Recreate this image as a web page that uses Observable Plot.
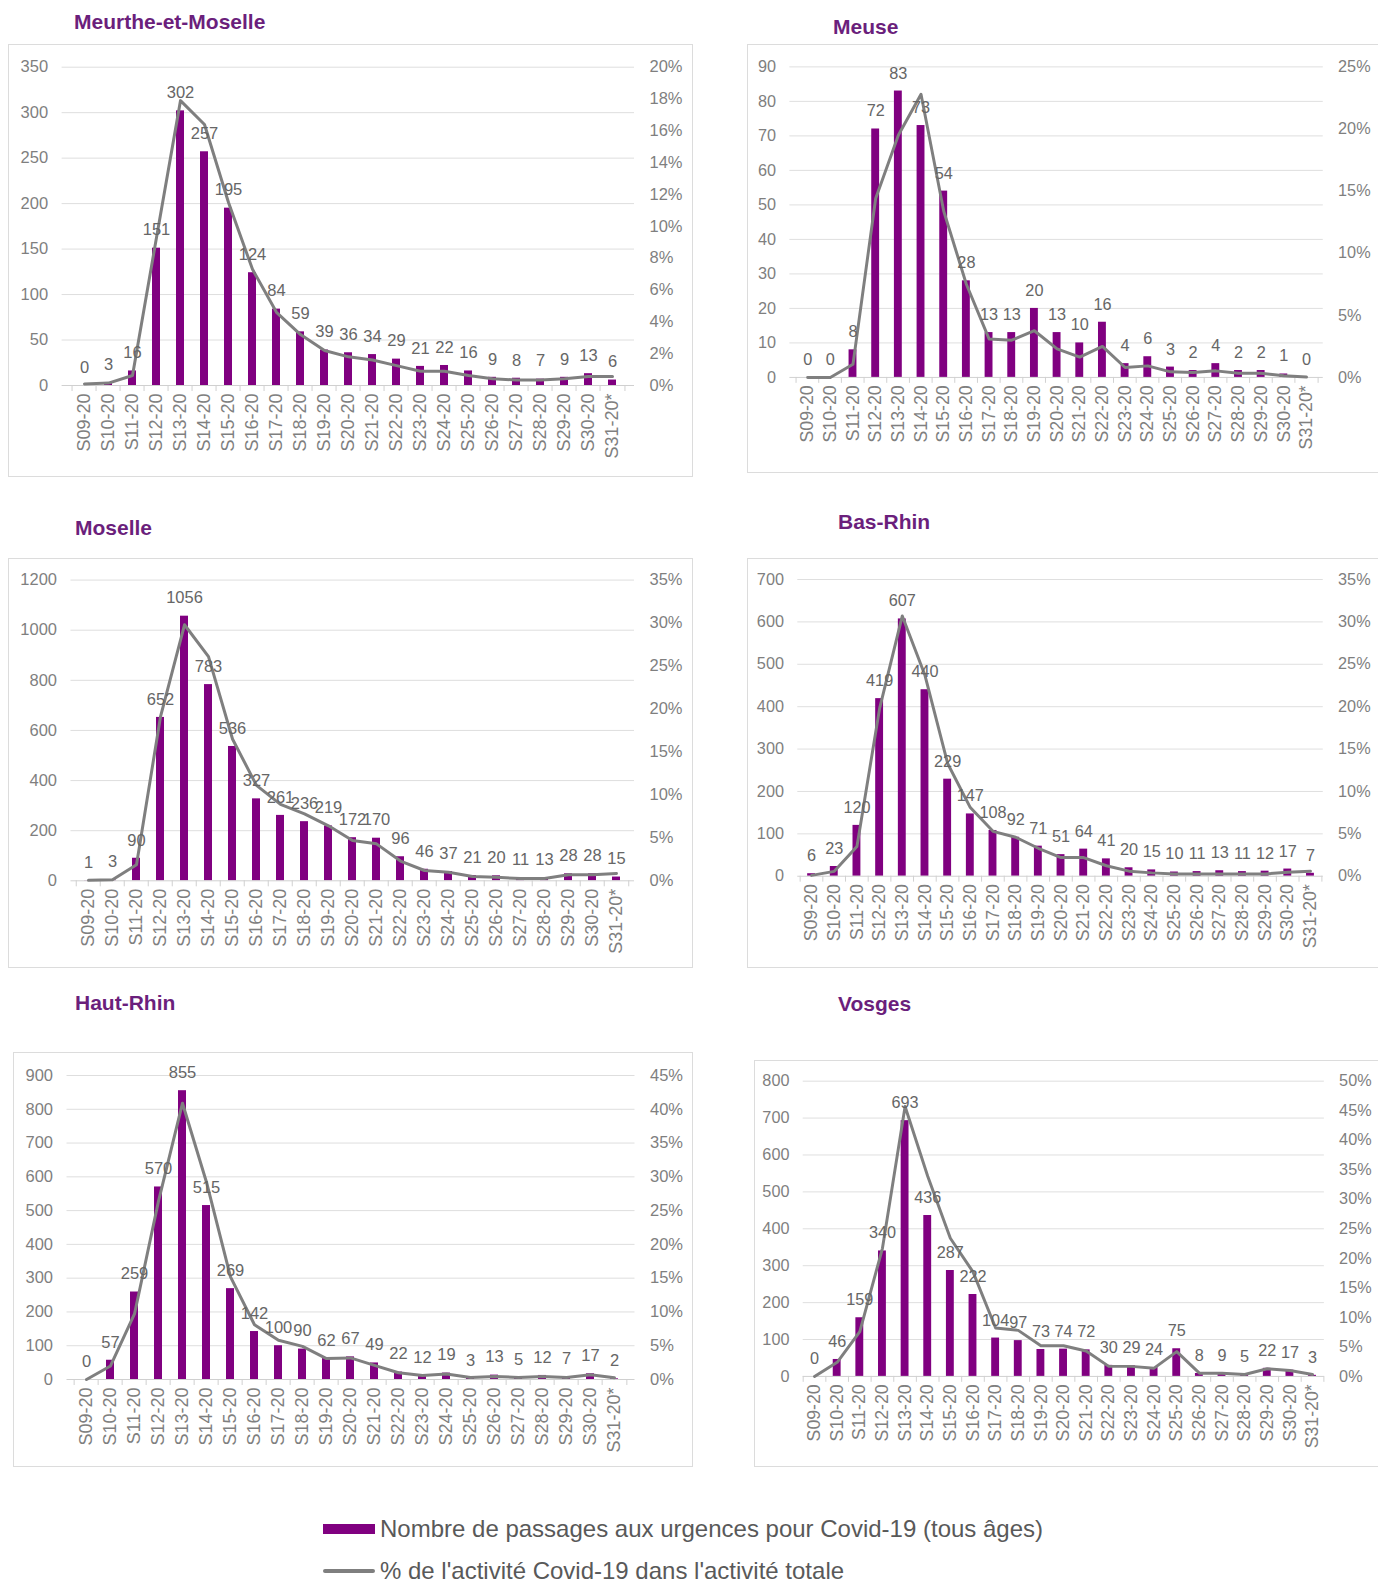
<!DOCTYPE html>
<html>
<head>
<meta charset="utf-8">
<script src="https://cdn.jsdelivr.net/npm/d3@7"></script>
<script src="https://cdn.jsdelivr.net/npm/@observablehq/plot@0.6"></script>
<style>
  html, body { margin: 0; padding: 0; background: #fff; }
  #page { position: relative; width: 1378px; height: 1584px; overflow: hidden; background: #fff;
          font-family: "Liberation Sans", Arial, sans-serif; }
  .frame { position: absolute; border: 1px solid #dcdcdc; box-sizing: border-box; }
  .title { position: absolute; font-weight: bold; font-size: 21px; color: #6b1f7c; line-height: 1; transform: translateY(-50%); white-space: nowrap; }
  .plotbox { position: absolute; }
  .plotbox svg { overflow: visible; }
  .leg { position: absolute; font-size: 24px; color: #595959; line-height: 1; transform: translateY(-50%); white-space: nowrap; }
</style>
</head>
<body>
<div id="page"></div>
<script>
// ---------- DATA ----------
const weeks = ["S09-20","S10-20","S11-20","S12-20","S13-20","S14-20","S15-20","S16-20","S17-20","S18-20","S19-20","S20-20","S21-20","S22-20","S23-20","S24-20","S25-20","S26-20","S27-20","S28-20","S29-20","S30-20","S31-20*"];

const meurtheCounts = [0,3,16,151,302,257,195,124,84,59,39,36,34,29,21,22,16,9,8,7,9,13,6];
const meurthePct    = [0.1,0.15,0.63,9.3,17.9,16.4,11.5,7.3,4.6,3.2,2.2,1.8,1.6,1.25,0.9,0.9,0.63,0.42,0.35,0.35,0.42,0.57,0.57];

const meuseCounts = [0,0,8,72,83,73,54,28,13,13,20,13,10,16,4,6,3,2,4,2,2,1,0];
const meusePct    = [0,0,1.06,14.4,19.5,22.8,13.4,7.5,3.1,3.0,3.76,2.3,1.64,2.5,0.8,0.93,0.45,0.4,0.53,0.34,0.34,0.13,0.03];

const moselleCounts = [1,3,90,652,1056,783,536,327,261,236,219,172,170,96,46,37,21,20,11,13,28,28,15];
const mosellePct    = [0.05,0.12,1.87,19.1,29.8,26.1,16.5,11.1,8.9,7.8,6.4,4.7,4.3,2.3,1.2,1.0,0.5,0.4,0.27,0.27,0.7,0.7,0.85];

const basRhinCounts = [6,23,120,419,607,440,229,147,108,92,71,51,64,41,20,15,10,11,13,11,12,17,7];
const basRhinPct    = [0.1,0.58,3.5,19.8,30.7,23.7,13.3,8.1,5.3,4.6,3.3,2.2,2.2,1.24,0.6,0.4,0.27,0.27,0.27,0.27,0.27,0.47,0.6];

const hautRhinCounts = [0,57,259,570,855,515,269,142,100,90,62,67,49,22,12,19,3,13,5,12,7,17,2];
const hautRhinPct    = [0,2.0,9.7,26.4,40.9,29.2,15.2,8.1,5.8,4.9,3.1,3.2,2.1,1.0,0.6,0.8,0.3,0.45,0.3,0.45,0.3,0.7,0.25];

const vosgesCounts = [0,46,159,340,693,436,287,222,104,97,73,74,72,30,29,24,75,8,9,5,22,17,3];
const vosgesPct    = [0,2.4,7.6,21.7,45.7,33.9,23.4,17.7,8.2,7.8,5.2,5.2,4.3,1.7,1.7,1.4,4.2,0.55,0.55,0.33,1.3,1.0,0.33];

const meurtheTicks  = [0,50,100,150,200,250,300,350];
const meurthePctTicks = [0,2,4,6,8,10,12,14,16,18,20];
const meuseTicks    = [0,10,20,30,40,50,60,70,80,90];
const meusePctTicks = [0,5,10,15,20,25];
const moselleTicks  = [0,200,400,600,800,1000,1200];
const mosellePctTicks = [0,5,10,15,20,25,30,35];
const basRhinTicks  = [0,100,200,300,400,500,600,700];
const basRhinPctTicks = [0,5,10,15,20,25,30,35];
const hautRhinTicks = [0,100,200,300,400,500,600,700,800,900];
const hautRhinPctTicks = [0,5,10,15,20,25,30,35,40,45];
const vosgesTicks   = [0,100,200,300,400,500,600,700,800];
const vosgesPctTicks = [0,5,10,15,20,25,30,35,40,45,50];

const legendLabels = ["Nombre de passages aux urgences pour Covid-19 (tous âges)", "% de l'activité Covid-19 dans l'activité totale"];

// ---------- LAYOUT ----------
const panels = [
  {name:"Meurthe-et-Moselle", counts:meurtheCounts, pct:meurthePct, ticks:meurtheTicks, pctTicks:meurthePctTicks,
   frame:[8,44,685,433], plot:[61.6,66.7,634,385], title:[74,20.7]},
  {name:"Meuse", counts:meuseCounts, pct:meusePct, ticks:meuseTicks, pctTicks:meusePctTicks,
   frame:[747,44,640,429], plot:[790,66.7,1331,381.7], title:[833,26]},
  {name:"Moselle", counts:moselleCounts, pct:mosellePct, ticks:moselleTicks, pctTicks:mosellePctTicks,
   frame:[8,557.7,685,410.3], plot:[70.5,579.3,634,880], title:[75,526.7]},
  {name:"Bas-Rhin", counts:basRhinCounts, pct:basRhinPct, ticks:basRhinTicks, pctTicks:basRhinPctTicks,
   frame:[747,557.7,640,410.3], plot:[798,579,1331,880], title:[838,520.7]},
  {name:"Haut-Rhin", counts:hautRhinCounts, pct:hautRhinPct, ticks:hautRhinTicks, pctTicks:hautRhinPctTicks,
   frame:[12.5,1052,680.5,415], plot:[66,1075,634,1379], title:[75,1002]},
  {name:"Vosges", counts:vosgesCounts, pct:vosgesPct, ticks:vosgesTicks, pctTicks:vosgesPctTicks,
   frame:[754,1060,634,407], plot:[803.5,1081,1333,1381], title:[838,1003]}
];

const page = document.getElementById("page");
const PURPLE = "#800080", GREY_LINE = "#7f7f7f", GRID = "#dedede", TICK_TXT = "#7f7f7f", VAL_TXT = "#666666";
const FONT = "'Liberation Sans', Arial, sans-serif";

for (const p of panels) {
  const [fx, fy, fw, fh] = p.frame;
  const [px0, py0, px1, py1] = p.plot;
  const frame = document.createElement("div");
  frame.className = "frame";
  Object.assign(frame.style, {left: fx+"px", top: fy+"px", width: fw+"px", height: fh+"px"});
  page.appendChild(frame);

  const title = document.createElement("div");
  title.className = "title";
  title.textContent = p.name;
  Object.assign(title.style, {left: p.title[0]+"px", top: p.title[1]+"px"});
  page.appendChild(title);

  const leftMax = p.ticks[p.ticks.length-1];
  const rightMax = p.pctTicks[p.pctTicks.length-1];
  const k = leftMax / rightMax;
  const rows = weeks.map((w, i) => ({week: w, n: p.counts[i], pct: p.pct[i]}));
  const step = (px1 - px0) / weeks.length;

  const chart = Plot.plot({
    width: fw, height: fh,
    marginLeft: px0 - fx, marginRight: fx + fw - px1,
    marginTop: py0 - fy, marginBottom: fy + fh - py1,
    style: {fontFamily: FONT, background: "transparent", overflow: "visible"},
    x: {type: "band", domain: weeks, paddingInner: 0.66, paddingOuter: 0.33, label: null, axis: null},
    y: {domain: [0, leftMax], label: null, axis: null},
    marks: [
      Plot.ruleY(p.ticks.slice(1), {stroke: GRID, strokeWidth: 1}),
      Plot.barY(rows, {x: "week", y: "n", fill: PURPLE}),
      Plot.ruleY([0], {stroke: "#d0d0d0", strokeWidth: 1}),
      Plot.ruleX(weeks, {x: d => d, y1: 0, y2: 0, dx: -step/2, insetBottom: -6, stroke: "#d0d0d0"}),
      Plot.ruleX(weeks.slice(-1), {x: d => d, y1: 0, y2: 0, dx: step/2, insetBottom: -6, stroke: "#d0d0d0"}),
      Plot.lineY(rows, {x: "week", y: d => d.pct * k, stroke: GREY_LINE, strokeWidth: 3, strokeLinejoin: "round"}),
      Plot.text(rows, {x: "week", y: "n", text: d => String(d.n), dy: -18, fill: VAL_TXT, fontSize: 16.5}),
      Plot.axisY(p.ticks, {anchor: "left", tickSize: 0, tickPadding: 14, fontSize: 16.5, color: TICK_TXT, label: null,
        tickFormat: d => String(d)}),
      Plot.axisY(p.pctTicks.map(t => t * k), {anchor: "right", tickSize: 0, tickPadding: 15, fontSize: 16.5, color: TICK_TXT,
        tickFormat: d => Math.round(d / k) + "%", label: null}),
      Plot.axisX(weeks, {tickRotate: -90, tickSize: 0, tickPadding: 8, fontSize: 18, color: TICK_TXT, label: null})
    ]
  });
  const box = document.createElement("div");
  box.className = "plotbox";
  Object.assign(box.style, {left: fx+"px", top: fy+"px"});
  box.appendChild(chart);
  page.appendChild(box);
}

// ---------- LEGEND ----------
const sw1 = document.createElement("div");
Object.assign(sw1.style, {position: "absolute", left: "323px", top: "1524px", width: "52px", height: "10px", background: PURPLE});
page.appendChild(sw1);
const sw2 = document.createElement("div");
Object.assign(sw2.style, {position: "absolute", left: "323px", top: "1569px", width: "52px", height: "4px", background: GREY_LINE, borderRadius: "2px"});
page.appendChild(sw2);
legendLabels.forEach((t, i) => {
  const d = document.createElement("div");
  d.className = "leg";
  d.textContent = t;
  Object.assign(d.style, {left: "380px", top: (i === 0 ? 1529 : 1571) + "px"});
  page.appendChild(d);
});
</script>
</body>
</html>
